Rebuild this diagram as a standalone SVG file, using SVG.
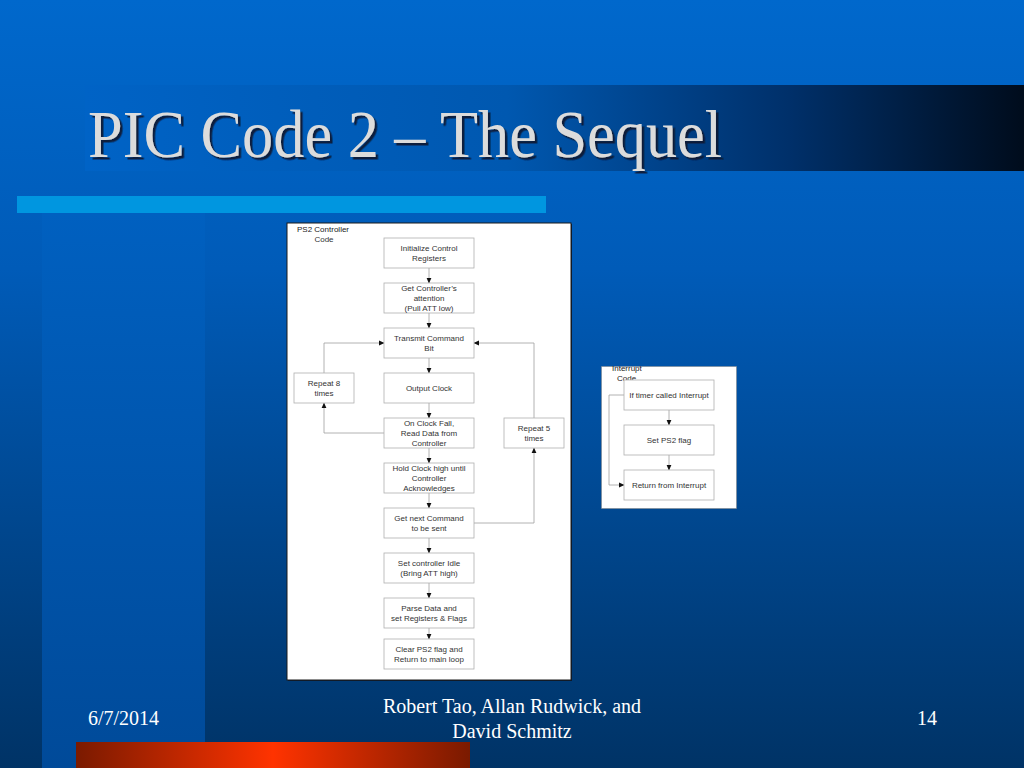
<svg xmlns="http://www.w3.org/2000/svg" width="1024" height="768" viewBox="0 0 1024 768">
<defs>
<linearGradient id="bg" x1="0" y1="0" x2="0" y2="1">
<stop offset="0" stop-color="#0068cc"/>
<stop offset="0.35" stop-color="#005bb8"/>
<stop offset="1" stop-color="#003366"/>
</linearGradient>
<linearGradient id="band" x1="0" y1="0" x2="0" y2="1">
<stop offset="0" stop-color="#0060c0"/>
<stop offset="1" stop-color="#004a99"/>
</linearGradient>
<linearGradient id="title" x1="0" y1="0" x2="1" y2="0">
<stop offset="0" stop-color="#0063c6"/>
<stop offset="0.45" stop-color="#0058b0"/>
<stop offset="0.75" stop-color="#00306a"/>
<stop offset="1" stop-color="#000c1c"/>
</linearGradient>
<linearGradient id="orange" x1="0" y1="0" x2="1" y2="0">
<stop offset="0" stop-color="#7a1a00"/>
<stop offset="0.5" stop-color="#ff3300"/>
<stop offset="1" stop-color="#7a1a00"/>
</linearGradient>
<filter id="shadow" x="-5%" y="-20%" width="110%" height="140%">
<feDropShadow dx="2.5" dy="2.5" stdDeviation="0.6" flood-color="#101830" flood-opacity="0.9"/>
</filter>
<marker id="arr" markerWidth="6" markerHeight="6" refX="5" refY="3" orient="auto" markerUnits="userSpaceOnUse">
<path d="M0,0.6 L5.5,3 L0,5.4 Z" fill="#111"/>
</marker>
</defs>
<style>
.box{fill:#ffffff;stroke:#b0b0b0;stroke-width:0.8}
.t{font-family:"Liberation Sans",Arial,sans-serif;font-size:8px;fill:#333;text-anchor:middle}
.tl{font-family:"Liberation Sans",Arial,sans-serif;font-size:8px;fill:#222}
.c{fill:none;stroke:#a0a0a0;stroke-width:0.8}
.ft{font-family:"Liberation Serif","Times New Roman",serif;font-size:20px;fill:#ffffff}
.ttl{font-family:"Liberation Serif","Times New Roman",serif;font-size:68px}
</style>

<!-- background -->
<rect x="0" y="0" width="1024" height="768" fill="url(#bg)"/>
<rect x="42" y="213" width="163" height="555" fill="url(#band)"/>
<rect x="85" y="85" width="939" height="86" fill="url(#title)"/>
<rect x="17" y="196" width="529" height="17" fill="#0096e0"/>
<rect x="76" y="742" width="394" height="26" fill="url(#orange)"/>

<!-- title -->
<text class="ttl" x="88" y="157" fill="#dcdcdc" filter="url(#shadow)" textLength="634" lengthAdjust="spacingAndGlyphs">PIC Code 2 – The Sequel</text>

<!-- footer -->
<text class="ft" x="88" y="725">6/7/2014</text>
<text class="ft" x="512" y="713" text-anchor="middle">Robert Tao, Allan Rudwick, and</text>
<text class="ft" x="512" y="738" text-anchor="middle">David Schmitz</text>
<text class="ft" x="917" y="725">14</text>

<!-- main panel -->
<g id="panel-main">
<rect x="288" y="224" width="284" height="457" fill="#0a1a33"/>
<rect x="287" y="223" width="284" height="457" fill="#ffffff" stroke="#1a1a1a" stroke-width="1"/>
<text class="tl" x="297" y="232">PS2 Controller</text>
<text class="t" x="324" y="242">Code</text>
</g>

<!-- interrupt panel -->
<g id="panel-int">
<rect x="601.5" y="366.5" width="135" height="142" fill="#ffffff" stroke="#808080" stroke-width="1" stroke-dasharray="1 1"/>
<text class="tl" x="612" y="371">Interrupt</text>
<text class="tl" x="617" y="381">Code</text>
</g>

<!-- connectors -->
<g id="connectors">
<line class="c" x1="429" y1="268" x2="429" y2="283" marker-end="url(#arr)"/>
<line class="c" x1="429" y1="313" x2="429" y2="328" marker-end="url(#arr)"/>
<line class="c" x1="429" y1="358" x2="429" y2="373" marker-end="url(#arr)"/>
<line class="c" x1="429" y1="403" x2="429" y2="418" marker-end="url(#arr)"/>
<line class="c" x1="429" y1="448" x2="429" y2="463" marker-end="url(#arr)"/>
<line class="c" x1="429" y1="493" x2="429" y2="508" marker-end="url(#arr)"/>
<line class="c" x1="429" y1="538" x2="429" y2="553" marker-end="url(#arr)"/>
<line class="c" x1="429" y1="583" x2="429" y2="598" marker-end="url(#arr)"/>
<line class="c" x1="429" y1="628" x2="429" y2="639" marker-end="url(#arr)"/>
<polyline class="c" points="384,433 324,433 324,403" marker-end="url(#arr)"/>
<polyline class="c" points="324,373 324,343 384,343" marker-end="url(#arr)"/>
<polyline class="c" points="474,523 534,523 534,448" marker-end="url(#arr)"/>
<polyline class="c" points="534,418 534,343 474,343" marker-end="url(#arr)"/>
<line class="c" x1="669" y1="410" x2="669" y2="425" marker-end="url(#arr)"/>
<line class="c" x1="669" y1="455" x2="669" y2="470" marker-end="url(#arr)"/>
<polyline class="c" points="624,395 609,395 609,485 624,485" marker-end="url(#arr)"/>
</g>

<!-- main nodes -->
<g id="n-init"><rect class="box" x="384" y="238" width="90" height="30"/>
<text class="t" x="429" y="250.5">Initialize Control</text><text class="t" x="429" y="260.5">Registers</text></g>
<g id="n-attn"><rect class="box" x="384" y="283" width="90" height="30"/>
<text class="t" x="429" y="291">Get Controller’s</text><text class="t" x="429" y="301">attention</text><text class="t" x="429" y="311">(Pull ATT low)</text></g>
<g id="n-tx"><rect class="box" x="384" y="328" width="90" height="30"/>
<text class="t" x="429" y="340.5">Transmit Command</text><text class="t" x="429" y="350.5">Bit</text></g>
<g id="n-clk"><rect class="box" x="384" y="373" width="90" height="30"/>
<text class="t" x="429" y="391">Output Clock</text></g>
<g id="n-read"><rect class="box" x="384" y="418" width="90" height="30"/>
<text class="t" x="429" y="426">On Clock Fall,</text><text class="t" x="429" y="436">Read Data from</text><text class="t" x="429" y="446">Controller</text></g>
<g id="n-hold"><rect class="box" x="384" y="463" width="90" height="30"/>
<text class="t" x="429" y="471">Hold Clock high until</text><text class="t" x="429" y="481">Controller</text><text class="t" x="429" y="491">Acknowledges</text></g>
<g id="n-next"><rect class="box" x="384" y="508" width="90" height="30"/>
<text class="t" x="429" y="520.5">Get next Command</text><text class="t" x="429" y="530.5">to be sent</text></g>
<g id="n-idle"><rect class="box" x="384" y="553" width="90" height="30"/>
<text class="t" x="429" y="565.5">Set controller Idle</text><text class="t" x="429" y="575.5">(Bring ATT high)</text></g>
<g id="n-parse"><rect class="box" x="384" y="598" width="90" height="30"/>
<text class="t" x="429" y="610.5">Parse Data and</text><text class="t" x="429" y="620.5">set Registers &amp; Flags</text></g>
<g id="n-clear"><rect class="box" x="384" y="639" width="90" height="30"/>
<text class="t" x="429" y="651.5">Clear PS2 flag and</text><text class="t" x="429" y="661.5">Return to main loop</text></g>
<g id="n-rep8"><rect class="box" x="294" y="373" width="60" height="30"/>
<text class="t" x="324" y="385.5">Repeat 8</text><text class="t" x="324" y="395.5">times</text></g>
<g id="n-rep5"><rect class="box" x="504" y="418" width="60" height="30"/>
<text class="t" x="534" y="430.5">Repeat 5</text><text class="t" x="534" y="440.5">times</text></g>

<!-- interrupt nodes -->
<g id="i-timer"><rect class="box" x="624" y="380" width="90" height="30"/>
<text class="t" x="669" y="398">If timer called Interrupt</text></g>
<g id="i-set"><rect class="box" x="624" y="425" width="90" height="30"/>
<text class="t" x="669" y="443">Set PS2 flag</text></g>
<g id="i-ret"><rect class="box" x="624" y="470" width="90" height="30"/>
<text class="t" x="669" y="488">Return from Interrupt</text></g>
</svg>
